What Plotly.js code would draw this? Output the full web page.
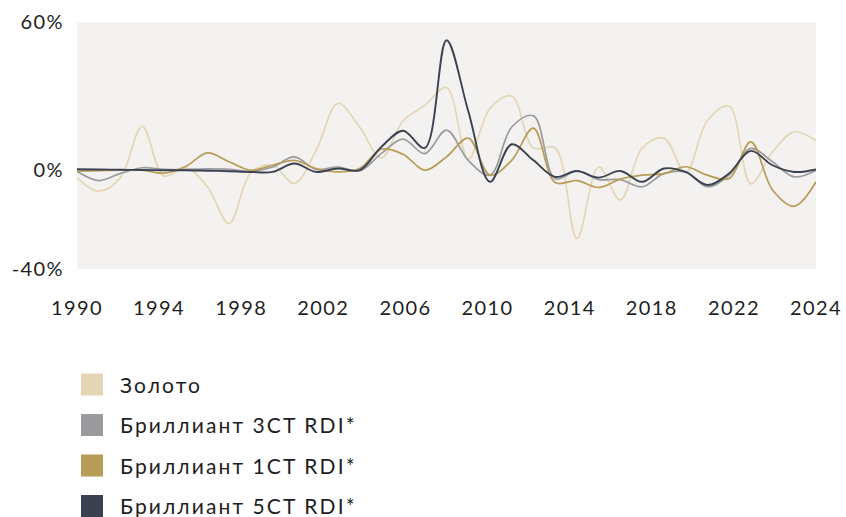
<!DOCTYPE html>
<html>
<head>
<meta charset="utf-8">
<script src="https://cdn.plot.ly/plotly-3.0.1.min.js"></script>
<style>
html,body{margin:0;padding:0;background:#fff;}
#chart .xtick text, #chart .ytick text, #chart .x2tick text{letter-spacing:1.4px;}
#chart .annotation-text{letter-spacing:2.1px;}
</style>
</head>
<body>
<div id="chart" style="width:846px;height:517px;"></div>
<script>
// ---- data ----
const years = [1990,1991,1992,1993,1994,1995,1996,1997,1998,1999,2000,2001,2002,2003,2004,2005,2006,2007,2008,2009,2010,2011,2012,2013,2014,2015,2016,2017,2018,2019,2020,2021,2022,2023,2024];
const gold = [-3,-8.5,-3,17.8,-2.4,1,-6.7,-21.6,-1,2,-5.4,8,27,17.5,5,20,26.3,33.5,4.5,25,30,9,9,-27.7,1.3,-12,9,13,-1,20,26,-5.5,7.4,15.5,12];
const d3ct = [-0.4,-4.2,-1.3,1,0.3,0.3,0.5,0.3,-0.5,1.3,5.4,0.3,1.3,-0.3,6.7,12.6,6.7,16.2,4,-2,17.5,22,-3.5,-0.3,-3.8,-3.8,-6.7,-1.4,-0.7,-6.7,-2,8.8,3.4,-2.7,0];
const d1ct = [-0.4,-0.2,0,0,-1.2,1.5,7,3.4,0,2,4,0.7,-0.7,0.7,8.5,6.5,0,5.4,13,-2,4,17,-5,-4.2,-7,-3.6,-2,-1.4,1.4,-2,-3.4,11.5,-8,-14.6,-4.7];
const d5ct = [0.4,0.3,0.2,0.1,0,0,-0.2,-0.4,-0.7,-0.7,2.7,-0.7,0.7,0,9.4,16,9,52.6,24,-4.7,10.5,4,-2.7,-0.3,-3,-0.3,-4.7,0.7,-0.7,-6,-1.3,7.8,2,-0.7,0.3];

const seriesNames = ["Золото","Бриллиант 3CT RDI*","Бриллиант 1CT RDI*","Бриллиант 5CT RDI*"];
const seriesColors = ["#e4d6b5","#9b9b9f","#b89b57","#3a4252"];
const seriesData = [gold, d3ct, d1ct, d5ct];

const tickYears = [1990,1994,1998,2002,2006,2010,2014,2018,2022,2026];
const tickLabels = ["1990","1994","1998","2002","2006","2010","2014","2018","2022","2024"];
const yTicks = [-40,0,60];
const yTickLabels = ["-40%","0%","60%"];

// ---- layout helpers (pixels) ----
const W = 846, H = 517, mL = 77, mR = 30, mT = 22, mB = 248;
const pw = W - mL - mR, ph = H - mT - mB;
const px = x => (x - mL) / pw;
const py = y => (H - mB - y) / ph;

const FONT = "Lato, 'Open Sans', sans-serif";

const traces = seriesData.map((d, i) => ({
  type: "scatter", mode: "lines", x: years, y: d, name: seriesNames[i],
  line: {color: seriesColors[i], width: i === 3 ? 1.9 : 1.7, shape: "spline", smoothing: 1},
  hoverinfo: "skip", showlegend: false
}));
traces.push({type: "scatter", mode: "lines", x: [tickYears[0], tickYears[tickYears.length-1]], y: [null, null],
  xaxis: "x2", yaxis: "y", showlegend: false, hoverinfo: "skip"});

const shapes = [], annotations = [];
seriesNames.forEach((n, i) => {
  const cy = 384.5 + i * 40.5;
  shapes.push({type: "rect", xref: "paper", yref: "paper",
    x0: px(81), x1: px(103), y0: py(cy + 11), y1: py(cy - 11),
    fillcolor: seriesColors[i], line: {width: 0}});
  annotations.push({xref: "paper", yref: "paper", x: px(118), y: py(cy - 0.5), xanchor: "left", yanchor: "middle",
    align: "left", text: n, showarrow: false, font: {family: FONT, size: 21, color: "#1e1e1e"}});
});

const layout = {
  width: W, height: H,
  margin: {l: mL, r: mR, t: mT, b: mB, pad: 0},
  paper_bgcolor: "#ffffff", plot_bgcolor: "#f4f2f0",
  showlegend: false,
  font: {family: FONT, size: 20, color: "#1e1e1e"},
  xaxis: {range: [years[0], years[years.length-1]], showgrid: false, zeroline: false, showline: false,
    showticklabels: false, ticks: "", fixedrange: true},
  xaxis2: {overlaying: "x", anchor: "y", side: "bottom", range: [tickYears[0], tickYears[tickYears.length-1]],
    tickvals: tickYears, ticktext: tickLabels, showgrid: false, zeroline: false, showline: false, ticks: "",
    ticklabelstandoff: 25, tickfont: {family: FONT, size: 20, color: "#1e1e1e"}},
  yaxis: {range: [-40, 60], tickvals: yTicks, ticktext: yTickLabels, showgrid: false, zeroline: false,
    showline: false, ticks: "", ticklabelstandoff: 12, tickfont: {family: FONT, size: 20, color: "#1e1e1e"}},
  shapes: shapes, annotations: annotations
};

Plotly.newPlot("chart", traces, layout, {displayModeBar: false, staticPlot: true});
</script>
</body>
</html>
